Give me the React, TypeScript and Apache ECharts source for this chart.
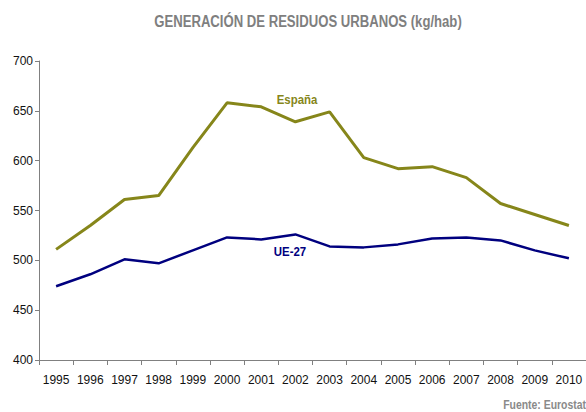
import React, { useEffect, useRef } from "react";
import * as echarts from "echarts";

const years = ["1995","1996","1997","1998","1999","2000","2001","2002","2003","2004","2005","2006","2007","2008","2009","2010"];
const espana = [511, 535, 561, 565, 613, 658, 654, 639, 649, 603, 592, 594, 583, 557, 546, 535];
const ue27 = [474, 486, 501, 497, 510, 523, 521, 526, 514, 513, 516, 522, 523, 520, 510, 502];
const title = "GENERACIÓN DE RESIDUOS URBANOS (kg/hab)";
const source = "Fuente: Eurostat";

const FONT = "'Liberation Sans', Arial, sans-serif";

export default function App() {
  const ref = useRef<HTMLDivElement>(null);
  useEffect(() => {
    if (!ref.current) return;
    const chart = echarts.init(ref.current, null, { renderer: "svg" });
    chart.setOption({
      animation: false,
      backgroundColor: "#ffffff",
      grid: { left: 39, right: -3, top: 61, bottom: 52, containLabel: false },
      xAxis: {
        type: "category",
        data: years,
        boundaryGap: true,
        axisLine: { lineStyle: { color: "#808080", width: 1 } },
        axisTick: { show: true, length: 5, lineStyle: { color: "#808080" } },
        axisLabel: { fontFamily: FONT, fontSize: 12, color: "#111", margin: 14, interval: 0 },
      },
      yAxis: {
        type: "value",
        min: 400,
        max: 700,
        interval: 50,
        splitLine: { show: false },
        axisLine: { show: true, lineStyle: { color: "#808080", width: 1 } },
        axisTick: { show: true, length: 4, lineStyle: { color: "#808080" } },
        axisLabel: { fontFamily: FONT, fontSize: 12, color: "#111", margin: 6 },
      },
      series: [
        {
          name: "España",
          type: "line",
          data: espana,
          symbol: "none",
          lineStyle: { color: "#86861a", width: 3 },
        },
        {
          name: "UE-27",
          type: "line",
          data: ue27,
          symbol: "none",
          lineStyle: { color: "#00007f", width: 2.5 },
        },
      ],
      graphic: [
        {
          type: "text",
          x: 308,
          y: 22,
          scaleX: 0.82,
          style: {
            text: title,
            font: "bold 16px " + FONT,
            fill: "#7f7f7f",
            textAlign: "center",
            textVerticalAlign: "middle",
          },
        },
        {
          type: "text",
          x: 297,
          y: 100,
          scaleX: 0.88,
          style: { text: "España", font: "bold 13px " + FONT, fill: "#86861a", textAlign: "center", textVerticalAlign: "middle" },
        },
        {
          type: "text",
          x: 290,
          y: 252,
          scaleX: 0.88,
          style: { text: "UE-27", font: "bold 13px " + FONT, fill: "#00007f", textAlign: "center", textVerticalAlign: "middle" },
        },
        {
          type: "text",
          x: 586,
          y: 405,
          scaleX: 0.87,
          style: { text: source, font: "bold 12px " + FONT, fill: "#8a8a8a", textAlign: "right", textVerticalAlign: "middle" },
        },
      ],
    });
    return () => chart.dispose();
  }, []);
  return (
    <div
      ref={ref}
      style={{ position: "fixed", left: 0, top: 0, width: 586, height: 412 }}
    />
  );
}
